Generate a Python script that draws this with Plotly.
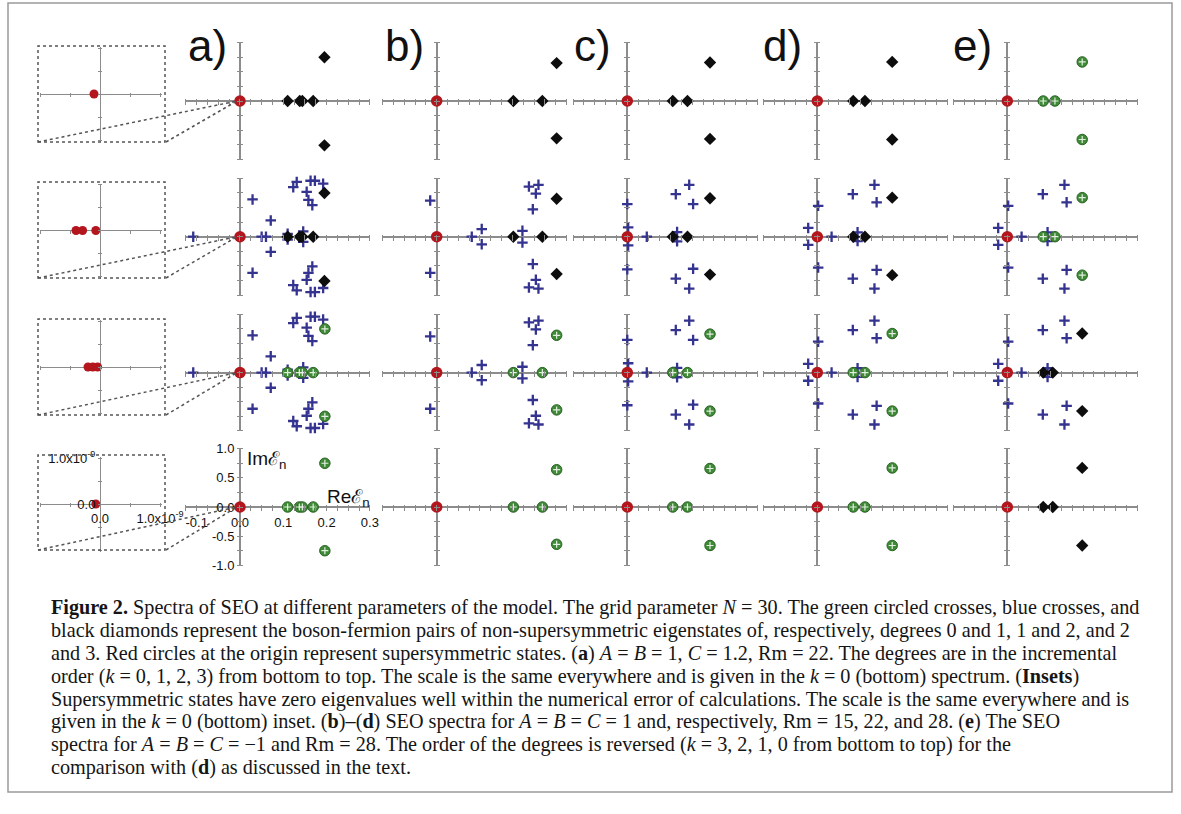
import numpy as np
import plotly.graph_objects as go

W, H = 1181, 814

# ---------------- data (Re, Im of eigenvalues) ----------------
panel_labels = ["a)", "b)", "c)", "d)", "e)"]
red_x = [0.0]
red_y = [0.0]

# panel a
green_a_x = [0.110, 0.137, 0.144, 0.169, 0.196, 0.196]
green_a_y = [0.0, 0.0, 0.0, 0.0, 0.75, -0.75]
black_a_x = [0.110, 0.138, 0.144, 0.169, 0.195, 0.195]
black_a_y = [0.0, 0.0, 0.0, 0.0, 0.75, -0.76]
blue_a_x = [-0.108, 0.029, 0.029, 0.071, 0.071, 0.050, 0.060, 0.110, 0.110, 0.146, 0.146,
            0.131, 0.123, 0.163, 0.173, 0.192, 0.154, 0.158, 0.167,
            0.131, 0.123, 0.163, 0.173, 0.192, 0.154, 0.158, 0.167]
blue_a_y = [0.0, 0.64, -0.62, 0.28, -0.26, 0.0, 0.0, 0.05, -0.05, 0.09, -0.09,
            0.94, 0.85, 0.96, 0.96, 0.91, 0.77, 0.63, 0.54,
            -0.92, -0.83, -0.95, -0.95, -0.88, -0.74, -0.62, -0.51]

# panel b
green_b_x = [0.177, 0.244, 0.277, 0.277]
green_b_y = [0.0, 0.0, 0.64, -0.64]
black_b_x = [0.177, 0.244, 0.277, 0.277]
black_b_y = [0.0, 0.0, 0.65, -0.64]
blue_b_x = [-0.015, -0.015, 0.081, 0.104, 0.104, 0.198, 0.198, 0.222, 0.222,
            0.213, 0.235, 0.229, 0.213, 0.235, 0.229]
blue_b_y = [0.62, -0.62, 0.0, 0.13, -0.13, 0.10, -0.10, 0.47, -0.47,
            0.86, 0.89, 0.74, -0.87, -0.89, -0.74]

# panel c
green_c_x = [0.105, 0.139, 0.191, 0.191]
green_c_y = [0.0, 0.0, 0.66, -0.66]
black_c_x = [0.105, 0.139, 0.191, 0.191]
black_c_y = [0.0, 0.0, 0.66, -0.65]
blue_c_x = [0.0, 0.0, 0.002, 0.002, 0.045, 0.115, 0.115, 0.112, 0.112, 0.143, 0.143, 0.152, 0.152]
blue_c_y = [0.56, -0.56, 0.16, -0.15, 0.0, 0.08, -0.08, 0.73, -0.72, 0.89, -0.89, 0.56, -0.55]

# panel d
green_d_x = [0.083, 0.110, 0.173, 0.173]
green_d_y = [0.0, 0.0, 0.67, -0.66]
black_d_x = [0.083, 0.110, 0.173, 0.173]
black_d_y = [0.0, 0.0, 0.67, -0.66]
blue_d_x = [0.002, 0.002, -0.021, -0.021, 0.033, 0.093, 0.093, 0.082, 0.082, 0.132, 0.132, 0.137, 0.137]
blue_d_y = [0.53, -0.53, 0.15, -0.14, 0.0, 0.075, -0.075, 0.73, -0.72, 0.89, -0.89, 0.59, -0.57]

# panel e
green_e_x = [0.083, 0.110, 0.173, 0.173]
green_e_y = [0.0, 0.0, 0.67, -0.66]
black_e_x = [0.083, 0.105, 0.173, 0.173]
black_e_y = [0.0, 0.0, 0.67, -0.66]
blue_e_x = [0.002, 0.002, -0.021, -0.021, 0.033, 0.093, 0.093, 0.082, 0.082, 0.132, 0.132, 0.137, 0.137]
blue_e_y = [0.53, -0.53, 0.15, -0.14, 0.0, 0.075, -0.075, 0.73, -0.72, 0.89, -0.89, 0.59, -0.57]

# insets (supersymmetric eigenvalues, top to bottom)
inset_red_x = [[-0.10e-9], [-0.40e-9, -0.29e-9, -0.07e-9], [-0.20e-9, -0.12e-9, -0.04e-9], [-0.07e-9]]
inset_red_y = [[0.0], [0.0, 0.0, 0.0], [0.0, 0.0, 0.0], [0.0]]

x_tick_labels = {-0.1: "-0.1", 0.0: "0.0", 0.1: "0.1", 0.2: "0.2", 0.3: "0.3"}
y_tick_labels = {1.0: "1.0", 0.5: "0.5", 0.0: "0.0", -0.5: "-0.5", -1.0: "-1.0"}
inset_tick_labels = {0.0: "0.0", 1e-9: "1.0x10<sup>-9</sup>"}

caption_lines = [
    "<b>Figure 2.</b> Spectra of SEO at different parameters of the model. The grid parameter <i>N</i> = 30. The green circled crosses, blue crosses, and",
    "black diamonds represent the boson-fermion pairs of non-supersymmetric eigenstates of, respectively, degrees 0 and 1, 1 and 2, and 2",
    "and 3. Red circles at the origin represent supersymmetric states. (<b>a</b>) <i>A</i> = <i>B</i> = 1, <i>C</i> = 1.2, Rm = 22. The degrees are in the incremental",
    "order (<i>k</i> = 0, 1, 2, 3) from bottom to top. The scale is the same everywhere and is given in the <i>k</i> = 0 (bottom) spectrum. (<b>Insets</b>)",
    "Supersymmetric states have zero eigenvalues well within the numerical error of calculations. The scale is the same everywhere and is",
    "given in the <i>k</i> = 0 (bottom) inset. (<b>b</b>)–(<b>d</b>) SEO spectra for <i>A</i> = <i>B</i> = <i>C</i> = 1 and, respectively, Rm = 15, 22, and 28. (<b>e</b>) The SEO",
    "spectra for <i>A</i> = <i>B</i> = <i>C</i> = −1 and Rm = 28. The order of the degrees is reversed (<i>k</i> = 3, 2, 1, 0 from bottom to top) for the",
    "comparison with (<b>d</b>) as discussed in the text.",
]

spectra = {
    "a": dict(green=(green_a_x, green_a_y), blue=(blue_a_x, blue_a_y), black=(black_a_x, black_a_y)),
    "b": dict(green=(green_b_x, green_b_y), blue=(blue_b_x, blue_b_y), black=(black_b_x, black_b_y)),
    "c": dict(green=(green_c_x, green_c_y), blue=(blue_c_x, blue_c_y), black=(black_c_x, black_c_y)),
    "d": dict(green=(green_d_x, green_d_y), blue=(blue_d_x, blue_d_y), black=(black_d_x, black_d_y)),
    "e": dict(green=(green_e_x, green_e_y), blue=(blue_e_x, blue_e_y), black=(black_e_x, black_e_y)),
}
# rows from top (k=3) to bottom (k=0); e is reversed
row_sets_normal = [["black"], ["blue", "black"], ["blue", "green"], ["green"]]
row_sets_reversed = [["green"], ["blue", "green"], ["blue", "black"], ["black"]]

# ---------------- layout geometry ----------------
col_x0 = [240.0, 436.7, 627.3, 817.3, 1007.3]
row_y0 = [101.0, 236.7, 372.6, 507.0]
label_cx = [207, 404, 592, 782, 972]
PPX, PPY = 433.0, 58.3
XR, YR = [-0.125, 0.3], [-1.0, 1.0]

inset_y0 = [94.0, 230.5, 367.0, 504.0]
inset_top = [46, 182, 319, 455]
inset_bot = [142, 278, 415, 550]
IX0 = 100.0
IPPX, IPPY = 60.0 / 1e-9, 46.0 / 1e-9
IXR, IYR = [-1.0e-9, 1.03e-9], [-1.05e-9, 1.02e-9]

AX = "#8c8c8c"
RED = "#b3161d"
BLUE = "#34338f"
GREEN = "#3f8a37"
BLACK = "#0d0d0d"
SANS = "Liberation Sans, Arial, sans-serif"
SERIF = "Liberation Serif, Times New Roman, serif"


def px2x(px):
    return px / W


def py2y(py):
    return 1 - py / H


def ticks_between(lo, hi, step):
    k0 = int(np.ceil(lo / step - 1e-6))
    k1 = int(np.floor(hi / step + 1e-6))
    return [k * step for k in range(k0, k1 + 1)]


def tick_text(vals, labs, step):
    out = []
    for v in vals:
        s = ""
        if labs:
            for k, t in labs.items():
                if abs(k - v) < step * 1e-3:
                    s = t
        out.append(s)
    return out


fig = go.Figure()
layout = dict()
counter = [0]


def new_axes(x0, y0, xr, yr, ppx, ppy, xstep, ystep, xlab=None, ylab=None, ticklen=6, zw=1.5):
    counter[0] += 1
    n = counter[0]
    sx = "" if n == 1 else str(n)
    xd = [px2x(x0 + xr[0] * ppx), px2x(x0 + xr[1] * ppx)]
    yd = [py2y(y0 - yr[0] * ppy), py2y(y0 - yr[1] * ppy)]
    xt = ticks_between(xr[0], xr[1], xstep)
    yt = ticks_between(yr[0], yr[1], ystep)
    half = ticklen / 2.0
    common = dict(showgrid=False, showline=False, zeroline=True, zerolinecolor=AX, zerolinewidth=zw,
                  ticks="outside", ticklen=ticklen, tickwidth=1, tickcolor=AX, tickmode="array",
                  anchor="free", fixedrange=True, automargin=False,
                  tickfont=dict(family=SANS, size=13, color="#111"))
    layout["xaxis" + sx] = dict(common, domain=xd, range=xr, position=py2y(y0 - half),
                               tickvals=xt, ticktext=tick_text(xt, xlab, xstep), showticklabels=bool(xlab))
    layout["yaxis" + sx] = dict(common, domain=yd, range=yr, position=px2x(x0 + half),
                               tickvals=yt, ticktext=tick_text(yt, ylab, ystep), showticklabels=bool(ylab))
    return "x" + sx, "y" + sx


def add_set(kind, xs, ys, xa, ya):
    if kind == "blue":
        fig.add_trace(go.Scatter(x=xs, y=ys, xaxis=xa, yaxis=ya, mode="markers", cliponaxis=False,
                                 marker=dict(symbol="cross-thin", size=7.5, line=dict(color=BLUE, width=2.3))))
    elif kind == "green":
        fig.add_trace(go.Scatter(x=xs, y=ys, xaxis=xa, yaxis=ya, mode="markers", cliponaxis=False,
                                 marker=dict(symbol="circle", size=10.5, color=GREEN,
                                             line=dict(color="#2b6425", width=1))))
        fig.add_trace(go.Scatter(x=xs, y=ys, xaxis=xa, yaxis=ya, mode="markers", cliponaxis=False,
                                 marker=dict(symbol="cross-thin", size=5, line=dict(color="#e3efe0", width=1.2))))
    elif kind == "black":
        fig.add_trace(go.Scatter(x=xs, y=ys, xaxis=xa, yaxis=ya, mode="markers", cliponaxis=False,
                                 marker=dict(symbol="diamond", size=9.5, color=BLACK, line=dict(width=0))))


for ci, key in enumerate(["a", "b", "c", "d", "e"]):
    rows = row_sets_reversed if key == "e" else row_sets_normal
    for ri in range(4):
        is_scale = (ci == 0 and ri == 3)
        xa, ya = new_axes(col_x0[ci], row_y0[ri], XR, YR, PPX, PPY, 0.025, 0.25,
                          xlab=x_tick_labels if is_scale else None,
                          ylab=y_tick_labels if is_scale else None)
        order = sorted(rows[ri], key=lambda k: {"blue": 0, "green": 1, "black": 2}[k])
        for kind in order:
            xs, ys = spectra[key][kind]
            add_set(kind, xs, ys, xa, ya)
        fig.add_trace(go.Scatter(x=red_x, y=red_y, xaxis=xa, yaxis=ya, mode="markers", cliponaxis=False,
                                 marker=dict(symbol="circle", size=11.5, color=RED, line=dict(width=0))))

# insets
for ii in range(4):
    last = ii == 3
    xa, ya = new_axes(IX0, inset_y0[ii], IXR, IYR, IPPX, IPPY, 0.5e-9, 0.5e-9,
                      xlab=inset_tick_labels if last else None,
                      ylab=inset_tick_labels if last else None, ticklen=4, zw=1.2)
    fig.add_trace(go.Scatter(x=inset_red_x[ii], y=inset_red_y[ii], xaxis=xa, yaxis=ya, mode="markers",
                             cliponaxis=False,
                             marker=dict(symbol="circle", size=9, color=RED, line=dict(width=0))))

shapes = []
# outer frame
shapes.append(dict(type="rect", xref="paper", yref="paper", x0=px2x(8), x1=px2x(1172), y0=py2y(792), y1=py2y(3),
                   line=dict(color="#9a9a9a", width=1.5), layer="below"))
for ii in range(4):
    shapes.append(dict(type="rect", xref="paper", yref="paper", x0=px2x(38), x1=px2x(165),
                       y0=py2y(inset_bot[ii]), y1=py2y(inset_top[ii]),
                       line=dict(color="#555", width=1.5, dash="dot")))
    for sx in (38, 166):
        shapes.append(dict(type="line", xref="paper", yref="paper", x0=px2x(sx), y0=py2y(inset_bot[ii]),
                           x1=px2x(237), y1=py2y(row_y0[ii]),
                           line=dict(color="#555", width=1.5, dash="dot")))

annotations = []
for ci, lab in enumerate(panel_labels):
    annotations.append(dict(text=lab, x=px2x(label_cx[ci]), y=py2y(46), xref="paper", yref="paper",
                            showarrow=False, xanchor="center", yanchor="middle",
                            font=dict(family=SANS, size=44, color="#111")))
annotations.append(dict(text="Imℰ<sub>n</sub>", x=px2x(245), y=py2y(460), xref="paper", yref="paper",
                        showarrow=False, xanchor="left", yanchor="middle",
                        font=dict(family=SANS, size=19, color="#111")))
annotations.append(dict(text="Reℰ<sub>n</sub>", x=px2x(325), y=py2y(498), xref="paper", yref="paper",
                        showarrow=False, xanchor="left", yanchor="middle",
                        font=dict(family=SANS, size=19, color="#111")))
cap_y = [607, 630, 653, 676, 699, 721, 744, 767]
for line, yy in zip(caption_lines, cap_y):
    annotations.append(dict(text=line, x=px2x(49), y=py2y(yy), xref="paper", yref="paper",
                            showarrow=False, xanchor="left", yanchor="middle", align="left",
                            font=dict(family=SERIF, size=20.2, color="#151515")))

fig.update_layout(**layout)
fig.update_layout(width=W, height=H, margin=dict(l=0, r=0, t=0, b=0, pad=0, autoexpand=False),
                  showlegend=False, paper_bgcolor="white", plot_bgcolor="white",
                  shapes=shapes, annotations=annotations)

pin = ("document.documentElement.style.margin='0';document.body.style.margin='0';"
       "document.documentElement.style.overflow='hidden';document.body.style.overflow='hidden';"
       "var gd=document.getElementById('{plot_id}');gd.style.position='fixed';"
       "gd.style.left='0px';gd.style.top='0px';")
fig.write_html("out.html", post_script=pin, config=dict(displayModeBar=False))
